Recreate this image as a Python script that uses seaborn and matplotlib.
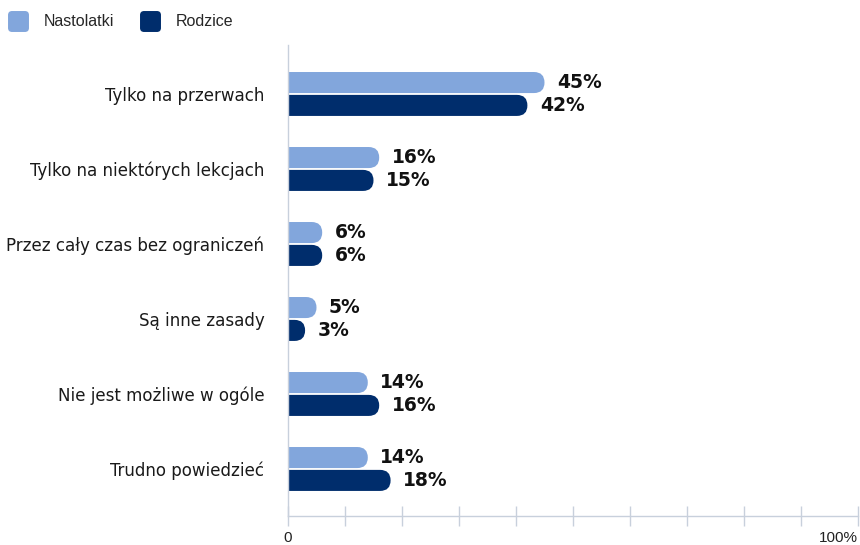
import pandas as pd
import seaborn as sns
from matplotlib import pyplot as plt
from matplotlib.lines import Line2D
from matplotlib.markers import MarkerStyle
from matplotlib.patches import FancyBboxPatch

# data
kategorie = [
    "Tylko na przerwach",
    "Tylko na niektórych lekcjach",
    "Przez cały czas bez ograniczeń",
    "Są inne zasady",
    "Nie jest możliwe w ogóle",
    "Trudno powiedzieć",
]
grupy = ["Nastolatki", "Rodzice"]
nastolatki = [45, 16, 6, 5, 14, 14]
rodzice = [42, 15, 6, 3, 16, 18]
kolory = {"Nastolatki": "#82A6DC", "Rodzice": "#002D6C"}

df = pd.DataFrame({
    "kategoria": kategorie * 2,
    "grupa": [grupy[0]] * len(kategorie) + [grupy[1]] * len(kategorie),
    "procent": nastolatki + rodzice,
})

sns.set_style("white")
fig = plt.figure(figsize=(8.6, 5.45), dpi=100)
ax = fig.add_axes([288 / 860, 1 - 516 / 545, 570 / 860, 471 / 545])

sns.barplot(data=df, y="kategoria", x="procent", hue="grupa", orient="h",
            order=kategorie, hue_order=grupy, palette=kolory, saturation=1,
            width=0.61, gap=0.08, legend=False, ax=ax)

ax.set_xlim(0, 100)
ax.set_ylim(5.627, -0.653)

###############################################################################
# rounded right ends: swap the bars for rounded boxes (left end hidden by clip)
p0 = ax.transData.transform((0, 0))
p1 = ax.transData.transform((1, 1))
sx = abs(p1[0] - p0[0])
sy = abs(p1[1] - p0[1])
bars = list(ax.patches)
for bar in bars:
    x, y = bar.get_x(), bar.get_y()
    w, h = bar.get_width(), bar.get_height()
    r = h * sy / (2 * sx)
    ext = 5
    box = FancyBboxPatch((x - ext, y), w + ext, h,
                         boxstyle=f"round,pad=0,rounding_size={r}",
                         mutation_aspect=sx / sy,
                         facecolor=bar.get_facecolor(), edgecolor="none",
                         zorder=2)
    bar.remove()
    ax.add_patch(box)
    ax.annotate(f"{w:.0f}%", (w, y + h / 2), xytext=(9, 0),
                textcoords="offset points", ha="left", va="center",
                fontsize=13.5, fontweight="bold", color="#111111",
                family="DejaVu Sans")

###############################################################################
# axes styling
ax.set_xlabel("")
ax.set_ylabel("")
ax.set_xticks(range(0, 101, 10))
ax.set_xticklabels(["0"] + [""] * 9 + ["100%"])
ax.get_xticklabels()[-1].set_ha("right")
ax.tick_params(axis="x", bottom=True, direction="inout", length=14, width=1,
               color="#C8D0DC", pad=4, labelsize=11, labelcolor="#222222")
ax.tick_params(axis="y", left=False, length=0, pad=17, labelsize=13.3,
               labelcolor="#1a1a1a")
for lab in ax.get_yticklabels():
    lab.set_family("DejaVu Sans")
    lab.set_stretch("condensed")
for lab in ax.get_xticklabels():
    lab.set_family("Liberation Sans")

sns.despine(ax=ax, top=True, right=True)
for side in ["left", "bottom"]:
    ax.spines[side].set_color("#C8D0DC")
    ax.spines[side].set_linewidth(1)
ax.grid(False)

# legend with rounded squares
handles = [Line2D([], [], linestyle="none",
                  marker=MarkerStyle("s", joinstyle="round"),
                  markersize=9.5, markeredgewidth=5,
                  markerfacecolor=kolory[g], markeredgecolor=kolory[g],
                  label=g) for g in grupy]
fig.legend(handles=handles, loc="center left",
           bbox_to_anchor=(0.0113, 1 - 22 / 545), ncol=2, frameon=False,
           borderpad=0, borderaxespad=0, handlelength=1.0,
           handletextpad=1.15, columnspacing=1.7,
           prop={"family": "Liberation Sans", "size": 11.5})

fig.savefig("out.png", dpi=100)
